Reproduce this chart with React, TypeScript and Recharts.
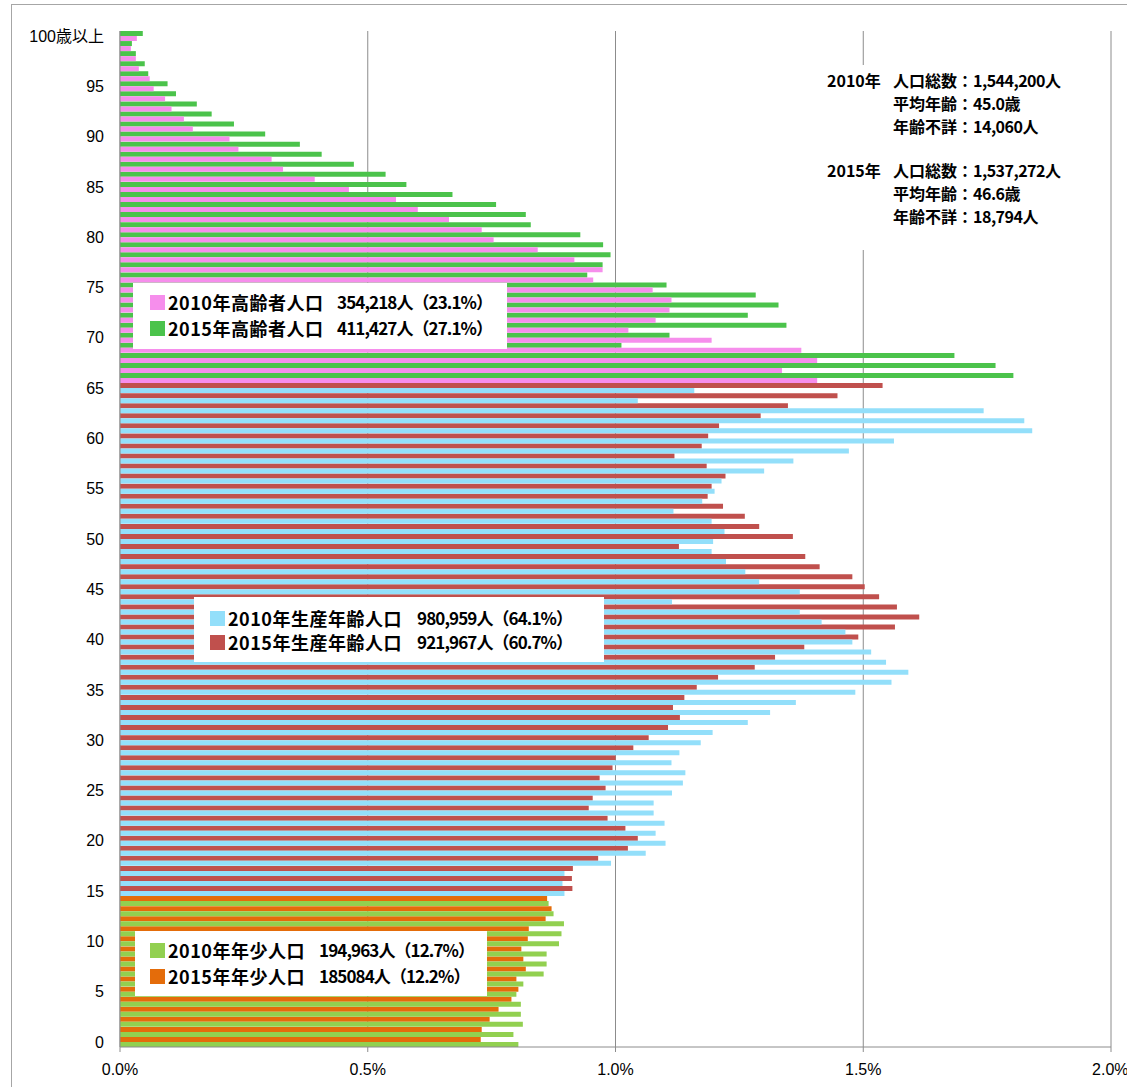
import { Bar, BarChart, CartesianGrid, Cell, XAxis, YAxis } from 'recharts';

// age categories, 0 .. 100歳以上 (drawn top = oldest)
const AGES = Array.from({ length: 101 }, (_, i) => (i === 100 ? '100歳以上' : String(i)));

// share of total population (%) by single year of age, index = age
const POP_2010 = [
  0.804, 0.794, 0.813, 0.809, 0.809, 0.8, 0.814, 0.855, 0.861, 0.861,
  0.886, 0.891, 0.896, 0.875, 0.865, 0.897, 0.893, 0.897, 0.991, 1.061,
  1.101, 1.081, 1.099, 1.077, 1.077, 1.114, 1.136, 1.141, 1.113, 1.129,
  1.172, 1.196, 1.267, 1.312, 1.364, 1.484, 1.557, 1.591, 1.546, 1.516,
  1.478, 1.464, 1.416, 1.372, 1.114, 1.372, 1.29, 1.262, 1.223, 1.194,
  1.197, 1.22, 1.194, 1.117, 1.175, 1.2, 1.214, 1.3, 1.359, 1.471,
  1.562, 1.841, 1.825, 1.743, 1.045, 1.159, 1.407, 1.336, 1.407, 1.375,
  1.194, 1.026, 1.081, 1.109, 1.113, 1.075, 0.955, 0.974, 0.917, 0.843,
  0.754, 0.73, 0.664, 0.601, 0.557, 0.462, 0.393, 0.329, 0.306, 0.239,
  0.221, 0.147, 0.129, 0.104, 0.091, 0.068, 0.06, 0.038, 0.032, 0.022,
  0.034,
];

const POP_2015 = [
  0.728, 0.73, 0.746, 0.764, 0.79, 0.804, 0.8, 0.819, 0.814, 0.81,
  0.823, 0.825, 0.859, 0.871, 0.862, 0.913, 0.912, 0.914, 0.965, 1.025,
  1.045, 1.02, 0.984, 0.946, 0.954, 0.98, 0.968, 0.994, 1.0, 1.036,
  1.067, 1.106, 1.13, 1.116, 1.139, 1.164, 1.207, 1.281, 1.322, 1.381,
  1.49, 1.564, 1.613, 1.568, 1.532, 1.503, 1.478, 1.412, 1.383, 1.128,
  1.358, 1.29, 1.261, 1.217, 1.186, 1.194, 1.222, 1.184, 1.119, 1.174,
  1.187, 1.209, 1.293, 1.348, 1.448, 1.539, 1.803, 1.767, 1.684, 1.012,
  1.109, 1.345, 1.267, 1.329, 1.283, 1.103, 0.943, 0.974, 0.99, 0.975,
  0.929, 0.829, 0.819, 0.759, 0.671, 0.578, 0.536, 0.472, 0.407, 0.363,
  0.293, 0.23, 0.185, 0.155, 0.113, 0.096, 0.057, 0.05, 0.032, 0.024,
  0.046,
];

const X_TICKS = [0, 0.5, 1, 1.5, 2];
const Y_LABELS = [
  '0', '5', '10', '15', '20', '25', '30', '35', '40', '45',
  '50', '55', '60', '65', '70', '75', '80', '85', '90', '95', '100歳以上',
];

// last age of each colour group as drawn
const YOUNG_LAST = 14;
const WORKING_LAST = 65;

const COLORS_2010 = { young: '#92D050', working: '#93DFFA', elderly: '#F68EEC' };
const COLORS_2015 = { young: '#E46C0A', working: '#C0504D', elderly: '#4BC34B' };

const SUMMARY_2010 = [
  ['人口総数：', '1,544,200人'],
  ['平均年齢：', '45.0歳'],
  ['年齢不詳：', '14,060人'],
];
const SUMMARY_2015 = [
  ['人口総数：', '1,537,272人'],
  ['平均年齢：', '46.6歳'],
  ['年齢不詳：', '18,794人'],
];

const LEGEND_ELDERLY = [
  ['2010年高齢者人口', '354,218人（23.1%）'],
  ['2015年高齢者人口', '411,427人（27.1%）'],
];
const LEGEND_WORKING = [
  ['2010年生産年齢人口', '980,959人（64.1%）'],
  ['2015年生産年齢人口', '921,967人（60.7%）'],
];
const LEGEND_YOUNG = [
  ['2010年年少人口', '194,963人（12.7%）'],
  ['2015年年少人口', '185084人（12.2%）'],
];

const AXIS_FONT = '"Liberation Sans", "Noto Sans CJK JP", sans-serif';
const JP_FONT = '"Noto Sans CJK JP", sans-serif';
const GRID = '#8c8c8c';

function group(age: number) {
  if (age <= YOUNG_LAST) return 'young';
  if (age <= WORKING_LAST) return 'working';
  return 'elderly';
}

const rows = AGES.map((age, i) => ({
  age,
  idx: i,
  y2010: POP_2010[i],
  y2015: POP_2015[i],
})).reverse();

const legendText: React.CSSProperties = {
  position: 'absolute',
  fontFamily: JP_FONT,
  fontWeight: 700,
  fontSize: 18,
  letterSpacing: 0.5,
  lineHeight: '24px',
  whiteSpace: 'nowrap',
  color: '#000',
};

const legendNum: React.CSSProperties = {
  ...legendText,
  fontSize: 17,
  letterSpacing: -0.9,
};

const summaryText: React.CSSProperties = {
  position: 'absolute',
  fontFamily: JP_FONT,
  fontWeight: 700,
  fontSize: 16,
  lineHeight: '22px',
  whiteSpace: 'nowrap',
  color: '#000',
};

type LegendProps = {
  left: number;
  top: number;
  width: number;
  height: number;
  lines: string[][];
  colors: string[];
  centers: number[];
  textLeft: number;
  numLeft: number;
};

function LegendBox({ left, top, width, height, lines, colors, centers, textLeft, numLeft }: LegendProps) {
  return (
    <>
      <div style={{ position: 'absolute', left, top, width, height, background: '#fff' }} />
      {lines.map((line, i) => (
        <div key={i}>
          <div
            style={{
              position: 'absolute',
              left: textLeft - 18,
              top: centers[i] - 7,
              width: 15,
              height: 15,
              background: colors[i],
            }}
          />
          <div style={{ ...legendText, left: textLeft, top: centers[i] - 12 }}>{line[0]}</div>
          <div style={{ ...legendNum, left: numLeft, top: centers[i] - 12 }}>{line[1]}</div>
        </div>
      ))}
    </>
  );
}

function Summary({ year, items, centers }: { year: string; items: string[][]; centers: number[] }) {
  return (
    <>
      <div style={{ ...summaryText, left: 827, top: centers[0] - 11 }}>{year}</div>
      {items.map((it, i) => (
        <div key={i}>
          <div style={{ ...summaryText, left: 853, width: 120, textAlign: 'right', top: centers[i] - 11 }}>{it[0]}</div>
          <div style={{ ...summaryText, left: 973, letterSpacing: -0.5, top: centers[i] - 11 }}>{it[1]}</div>
        </div>
      ))}
    </>
  );
}

export default function App() {
  return (
    <div
      style={{
        position: 'absolute',
        left: 0,
        top: 0,
        width: 1127,
        height: 1087,
        overflow: 'hidden',
        background: '#fff',
      }}
    >
      {/* outer chart frame */}
      <div style={{ position: 'absolute', left: 11, top: 4, width: 1200, height: 1, background: '#a6a6a6' }} />
      <div style={{ position: 'absolute', left: 11, top: 4, width: 1, height: 1200, background: '#a6a6a6' }} />

      <div style={{ position: 'absolute', left: 0, top: 0 }}>
        <BarChart
          width={1127}
          height={1087}
          layout="vertical"
          data={rows}
          margin={{ top: 31, right: 16, bottom: 0, left: 0 }}
          barCategoryGap={0}
          barGap={0}
        >
          <CartesianGrid horizontal={false} stroke={GRID} />
          <XAxis
            type="number"
            domain={[0, 2]}
            ticks={X_TICKS}
            tickFormatter={(v: number) => `${v.toFixed(1)}%`}
            height={40}
            axisLine={{ stroke: GRID }}
            tickLine={{ stroke: GRID }}
            tickSize={5}
            tickMargin={12}
            tick={{ fill: '#000', fontSize: 16, fontFamily: AXIS_FONT }}
          />
          <YAxis
            type="category"
            dataKey="age"
            width={120}
            interval={0}
            tickLine={false}
            tickSize={8}
            tickMargin={8}
            axisLine={{ stroke: GRID }}
            tickFormatter={(v: string) => (Y_LABELS.includes(v) ? v : '')}
            tick={{ fill: '#000', fontSize: 16, fontFamily: AXIS_FONT }}
          />
          <Bar dataKey="y2015" isAnimationActive={false}>
            {rows.map((r) => (
              <Cell key={r.age} fill={COLORS_2015[group(r.idx)]} />
            ))}
          </Bar>
          <Bar dataKey="y2010" isAnimationActive={false}>
            {rows.map((r) => (
              <Cell key={r.age} fill={COLORS_2010[group(r.idx)]} />
            ))}
          </Bar>
        </BarChart>
      </div>

      {/* population summary, top right */}
      <div style={{ position: 'absolute', left: 812, top: 65, width: 263, height: 185, background: '#fff' }} />
      <Summary year="2010年" items={SUMMARY_2010} centers={[80, 103, 126]} />
      <Summary year="2015年" items={SUMMARY_2015} centers={[170, 193, 216]} />

      <LegendBox
        left={133}
        top={283}
        width={374}
        height={66}
        lines={LEGEND_ELDERLY}
        colors={[COLORS_2010.elderly, COLORS_2015.elderly]}
        centers={[302, 328]}
        textLeft={168}
        numLeft={337}
      />
      <LegendBox
        left={194}
        top={597}
        width={410}
        height={65}
        lines={LEGEND_WORKING}
        colors={[COLORS_2010.working, COLORS_2015.working]}
        centers={[618, 642]}
        textLeft={228}
        numLeft={417}
      />
      <LegendBox
        left={135}
        top={931}
        width={352}
        height={65}
        lines={LEGEND_YOUNG}
        colors={[COLORS_2010.young, COLORS_2015.young]}
        centers={[950, 976]}
        textLeft={168}
        numLeft={319}
      />
    </div>
  );
}
